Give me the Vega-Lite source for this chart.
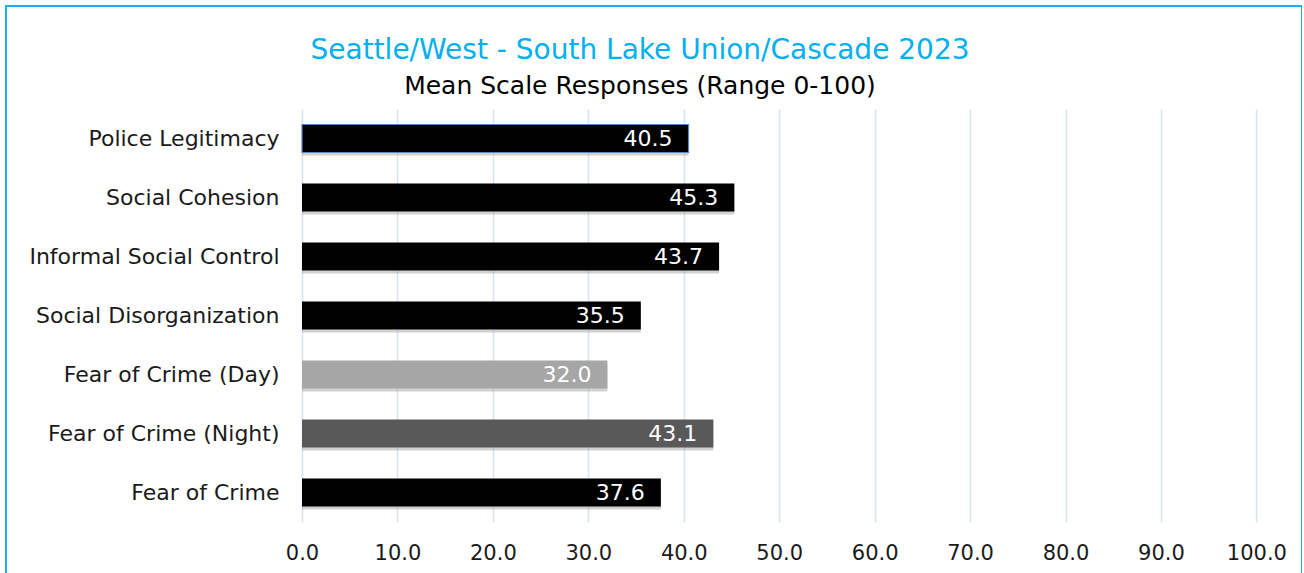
{
  "$schema": "https://vega.github.io/schema/vega-lite/v6.json",
  "autosize": "none",
  "width": 1296,
  "height": 619,
  "padding": {"left": 6, "top": 6, "right": 0, "bottom": 0},
  "background": "white",
  "config": {
    "view": {"stroke": "#1ab0ee", "strokeWidth": 2},
    "font": "DejaVu Sans"
  },
  "title": {
    "text": "Seattle/West - South Lake Union/Cascade 2023",
    "subtitle": "Mean Scale Responses (Range 0-100)",
    "anchor": "middle",
    "frame": "group",
    "orient": "top",
    "offset": -93,
    "dx": -14,
    "font": "DejaVu Sans",
    "fontSize": 28,
    "fontWeight": "normal",
    "color": "#00b0f0",
    "subtitleFont": "DejaVu Sans",
    "subtitleFontSize": 25,
    "subtitleColor": "#000000",
    "subtitlePadding": 9
  },
  "data": {
    "values": [
      {"measure": "Police Legitimacy", "value": 40.5},
      {"measure": "Social Cohesion", "value": 45.3},
      {"measure": "Informal Social Control", "value": 43.7},
      {"measure": "Social Disorganization", "value": 35.5},
      {"measure": "Fear of Crime (Day)", "value": 32.0},
      {"measure": "Fear of Crime (Night)", "value": 43.1},
      {"measure": "Fear of Crime", "value": 37.6}
    ]
  },
  "encoding": {
    "y": {
      "field": "measure",
      "type": "nominal",
      "sort": null,
      "scale": {"range": [103, 516], "paddingInner": 0.525, "paddingOuter": 0.2625},
      "axis": {
        "title": null,
        "orient": "left",
        "offset": -296,
        "domain": false,
        "ticks": false,
        "labelPadding": 23,
        "labelFontSize": 22,
        "labelLimit": 400,
        "labelColor": "#1a1a1a",
        "labelFont": "DejaVu Sans"
      }
    },
    "x": {
      "field": "value",
      "type": "quantitative",
      "scale": {"domain": [0, 100], "range": [296, 1250.4], "nice": false, "zero": true},
      "axis": {
        "title": null,
        "orient": "bottom",
        "offset": -103,
        "values": [0, 10, 20, 30, 40, 50, 60, 70, 80, 90, 100],
        "format": ".1f",
        "domain": false,
        "ticks": false,
        "grid": true,
        "gridColor": "#d8e2f0",
        "gridWidth": 1.5,
        "labelFlush": false,
        "labelPadding": 20,
        "labelFontSize": 21,
        "labelColor": "#1a1a1a",
        "labelFont": "DejaVu Sans"
      }
    }
  },
  "layer": [
    {
      "mark": {"type": "bar", "color": "#9a9a9a", "opacity": 0.45, "yOffset": 3, "x2Offset": 2},
      "encoding": {}
    },
    {
      "mark": {"type": "bar"},
      "encoding": {
        "color": {
          "field": "measure",
          "type": "nominal",
          "legend": null,
          "scale": {
            "domain": ["Police Legitimacy", "Social Cohesion", "Informal Social Control", "Social Disorganization", "Fear of Crime (Day)", "Fear of Crime (Night)", "Fear of Crime"],
            "range": ["#000000", "#000000", "#000000", "#000000", "#a6a6a6", "#595959", "#000000"]
          }
        },
        "stroke": {
          "condition": {"test": "datum.measure === 'Police Legitimacy'", "value": "#5b86c9"},
          "value": null
        },
        "strokeWidth": {"value": 1.2}
      }
    },
    {
      "mark": {"type": "text", "align": "right", "baseline": "middle", "dx": -16, "color": "white", "fontSize": 22, "font": "DejaVu Sans"},
      "encoding": {
        "text": {"field": "value", "type": "quantitative", "format": ".1f"}
      }
    }
  ]
}
